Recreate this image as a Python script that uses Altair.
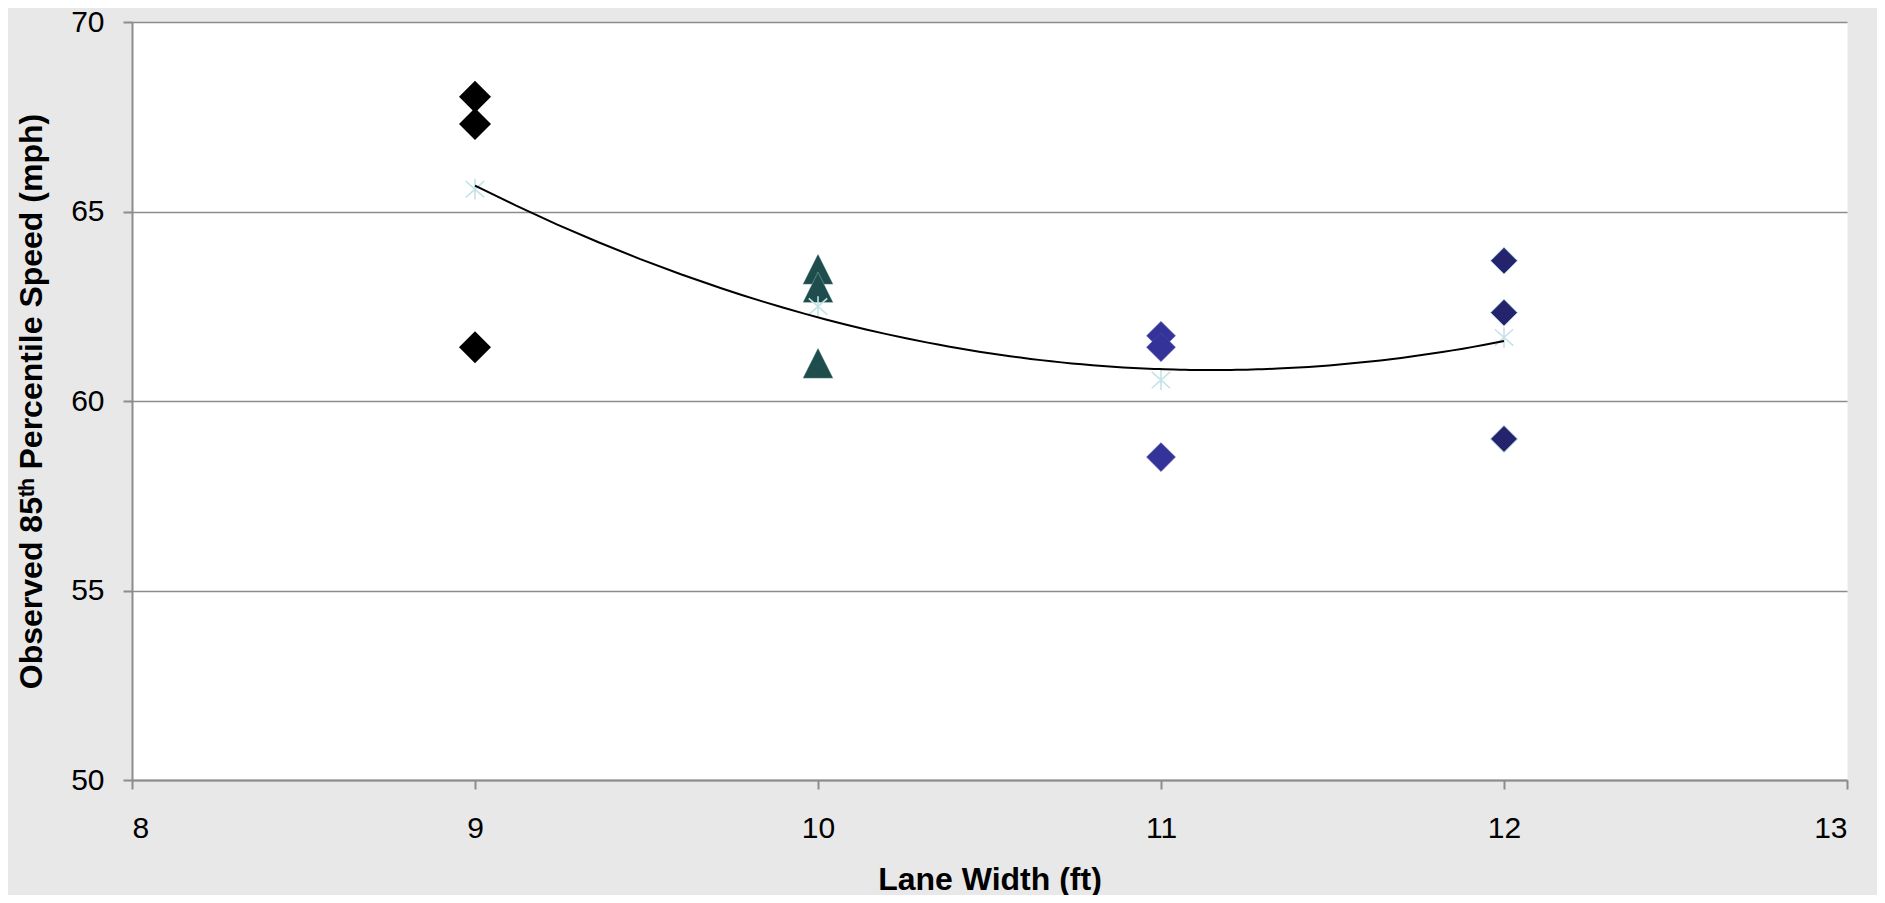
import altair as alt
import pandas as pd

# Lane widths (ft) and observed 85th percentile speeds (mph)
lane_widths = [9, 10, 11, 12]
speeds_9 = [68.03, 67.31, 61.42]
speeds_10 = [63.48, 63.00, 61.00]
speeds_11 = [61.72, 61.42, 58.52]
speeds_12 = [63.70, 62.33, 59.00]
x_ticks = [8, 9, 10, 11, 12, 13]
y_ticks = [50, 55, 60, 65, 70]

rows = []
for w, vals in zip(lane_widths, [speeds_9, speeds_10, speeds_11, speeds_12]):
    for v in vals:
        rows.append({"width": w, "speed": v, "group": str(w)})
df = pd.DataFrame(rows)

FONT = "Liberation Sans"
GRID = "#8c8c8c"
DIAMOND = "M0,-1L1,0L0,1L-1,0Z"
TRIANGLE = "M0,-1L1,1L-1,1Z"
STAR = "M-0.9,-0.8L0.9,0.8M-0.9,0.8L0.9,-0.8M0,-1L0,1"

x_enc = alt.X("width:Q", scale=alt.Scale(domain=[8, 13], nice=False, zero=False),
              axis=alt.Axis(values=x_ticks, grid=False, title="Lane Width (ft)", format="d",
                            titleX=857.5, titleY=109, titleBaseline="alphabetic",
                            labelPadding=24))
y_enc = alt.Y("speed:Q", scale=alt.Scale(domain=[50, 70], nice=False, zero=False),
              axis=alt.Axis(values=y_ticks, grid=True, format="d",
                            title="Observed 85ᵗʰ Percentile Speed (mph)",
                            titleX=-101, titleY=379, titleBaseline="middle",
                            titleAngle=270, titleAlign="center", labelPadding=19))

groups = ["9", "10", "11", "12"]
points = alt.Chart(df).mark_point(filled=True, opacity=1).encode(
    x=x_enc,
    y=y_enc,
    color=alt.Color("group:N", scale=alt.Scale(domain=groups,
                    range=["#000000", "#1f4d4d", "#333399", "#23236e"]), legend=None),
    shape=alt.Shape("group:N", scale=alt.Scale(domain=groups,
                    range=[DIAMOND, TRIANGLE, DIAMOND, DIAMOND]), legend=None),
    stroke=alt.Stroke("group:N", scale=alt.Scale(domain=groups,
                      range=["#000000", "#d8ecee", "#4a4aa8", "#c5e3e6"]), legend=None),
    strokeWidth=alt.StrokeWidth("group:N", scale=alt.Scale(domain=groups,
                                range=[0, 1, 0.8, 2]), legend=None),
    size=alt.Size("group:N", scale=alt.Scale(domain=groups,
                  range=[1020, 730, 1020, 980]), legend=None),
)

means = alt.Chart(df).transform_aggregate(
    mean_speed="mean(speed)", groupby=["width"]
).mark_point(shape=STAR, filled=False, color="#c5e3e6", strokeWidth=1.6,
             size=420, opacity=1).encode(
    x="width:Q",
    y="mean_speed:Q",
)

trend = alt.Chart(df).transform_regression(
    "width", "speed", method="poly", order=2
).mark_line(color="#000000", strokeWidth=2).encode(
    x="width:Q",
    y="speed:Q",
)

chart = alt.layer(points, means, trend).properties(
    width=1715,
    height=758,
    background="#e8e8e8",
    padding={"left": 124, "top": 14, "right": 30, "bottom": 115},
    autosize=alt.AutoSizeParams(type="none"),
).configure_view(
    fill="white", strokeOpacity=0
).configure_axis(
    labelFont=FONT, labelFontSize=30, labelColor="#000000",
    titleFont=FONT, titleFontSize=32, titleFontWeight="bold", titleColor="#000000",
    domainColor=GRID, domainWidth=2, tickColor=GRID, tickWidth=2, tickSize=9,
    gridColor=GRID, gridWidth=1.5, gridOpacity=1,
)

chart.save("out.html", embed_options={"renderer": "svg", "actions": False})
